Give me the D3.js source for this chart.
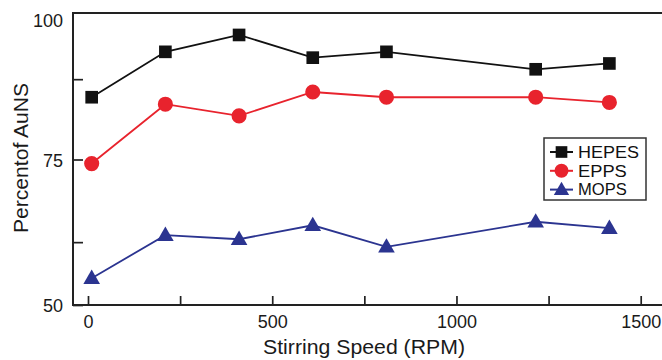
<!DOCTYPE html>
<html>
<head>
<meta charset="utf-8">
<script src="https://cdn.jsdelivr.net/npm/d3@7"></script>
<style>
  body { margin: 0; background: #fff; }
  svg { display: block; font-family: "Liberation Sans", Arial, sans-serif; }
</style>
</head>
<body>
<div class="chart"></div>
<script>
// data
var speeds = [10, 210, 410, 610, 810, 1215, 1415];
var hepes = [85.7, 93.5, 96.4, 92.5, 93.5, 90.5, 91.5];
var epps  = [74.3, 84.5, 82.5, 86.6, 85.7, 85.7, 84.8];
var mops  = [54.6, 62.0, 61.3, 63.7, 60.0, 64.3, 63.2];
var seriesNames = ["HEPES", "EPPS", "MOPS"];
var xTicks = [0, 250, 500, 750, 1000, 1250, 1500];
var yTicks = [50, 60.8, 75, 88.8];
var yLabels = [50, 75, 100];

var width = 662, height = 360;

var x = d3.scaleLinear().domain([0, 1500]).range([88, 640.7]);
var y = d3.scaleLinear().domain([50, 100]).range([305, 14]);

var svg = d3.select(".chart").append("svg")
    .attr("width", width)
    .attr("height", height);

var series = [
    { name: seriesNames[0], values: hepes, color: "#111111", shape: d3.symbolSquare, size: 160 },
    { name: seriesNames[1], values: epps, color: "#e8232d", shape: d3.symbolCircle, size: 180 },
    { name: seriesNames[2], values: mops, color: "#2b3490", shape: d3.symbolTriangle, size: 120 }
];

// axes, ticks pointing inward
var xAxis = d3.axisBottom(x)
    .tickValues(xTicks)
    .tickSize(-9)
    .tickPadding(10)
    .tickFormat(d => d % 500 === 0 ? d : "");

var gx = svg.append("g")
    .attr("transform", "translate(0,305)")
    .call(xAxis);

var yAxis = d3.axisLeft(y)
    .tickValues(yTicks)
    .tickSize(-10)
    .tickFormat("");

var gy = svg.append("g")
    .attr("transform", "translate(73,0)")
    .call(yAxis);

[gx, gy].forEach(g => {
    g.select(".domain").remove();
    g.selectAll(".tick line").attr("stroke", "#222").attr("stroke-width", 1.7);
    g.selectAll("text").attr("font-size", 18).attr("fill", "#1a1a1a")
        .attr("font-family", "Liberation Sans, Arial, sans-serif");
});

svg.append("g").selectAll("text")
    .data(yLabels)
    .enter().append("text")
    .attr("x", 63)
    .attr("y", d => d === 100 ? y(d) + 7 : y(d) + 1)
    .attr("dy", "0.35em")
    .attr("text-anchor", "end")
    .attr("font-size", 18)
    .attr("fill", "#1a1a1a")
    .text(d => d);

// frame (right side runs off the picture)
svg.append("path")
    .attr("d", "M700,13 H73 V305 H700")
    .attr("fill", "none")
    .attr("stroke", "#222")
    .attr("stroke-width", 2);

var line = d3.line()
    .x((d, i) => x(speeds[i]))
    .y(d => y(d));

series.forEach(s => {
    svg.append("path")
        .datum(s.values)
        .attr("fill", "none")
        .attr("stroke", s.color)
        .attr("stroke-width", 1.8)
        .attr("d", line);

    svg.append("g").selectAll("path")
        .data(s.values)
        .enter().append("path")
        .attr("d", d3.symbol().type(s.shape).size(s.size))
        .attr("transform", (d, i) => `translate(${x(speeds[i])},${y(d) + (s.shape === d3.symbolTriangle ? 1 : 0)})`)
        .attr("fill", s.color);
});

// axis titles
svg.append("text")
    .attr("x", 364)
    .attr("y", 354)
    .attr("text-anchor", "middle")
    .attr("font-size", 19.5)
    .attr("fill", "#1a1a1a")
    .attr("textLength", 202)
    .attr("lengthAdjust", "spacingAndGlyphs")
    .text("Stirring Speed (RPM)");

svg.append("text")
    .attr("transform", "translate(28,158) rotate(-90)")
    .attr("text-anchor", "middle")
    .attr("font-size", 19.5)
    .attr("fill", "#1a1a1a")
    .attr("textLength", 150)
    .attr("lengthAdjust", "spacingAndGlyphs")
    .text("Percentof AuNS");

// legend
var legend = svg.append("g").attr("transform", "translate(544,138)");
legend.append("rect")
    .attr("width", 102)
    .attr("height", 62)
    .attr("fill", "#fff")
    .attr("stroke", "#333")
    .attr("stroke-width", 1.5);

var item = legend.selectAll(".item")
    .data(series)
    .enter().append("g")
    .attr("transform", (d, i) => `translate(0,${14 + i * 18.8})`);

item.append("line")
    .attr("x1", 6).attr("x2", 29)
    .attr("stroke", d => d.color)
    .attr("stroke-width", 2);

item.append("path")
    .attr("d", d => d3.symbol().type(d.shape).size(d.size * 0.85)())
    .attr("transform", d => `translate(17.5,${d.shape === d3.symbolTriangle ? 1 : 0})`)
    .attr("fill", d => d.color);

item.append("text")
    .attr("x", 34)
    .attr("dy", "0.36em")
    .attr("font-size", 16)
    .attr("fill", "#111")
    .attr("textLength", d => d.name.length * 12.2)
    .attr("lengthAdjust", "spacingAndGlyphs")
    .text(d => d.name);
</script>
</body>
</html>
